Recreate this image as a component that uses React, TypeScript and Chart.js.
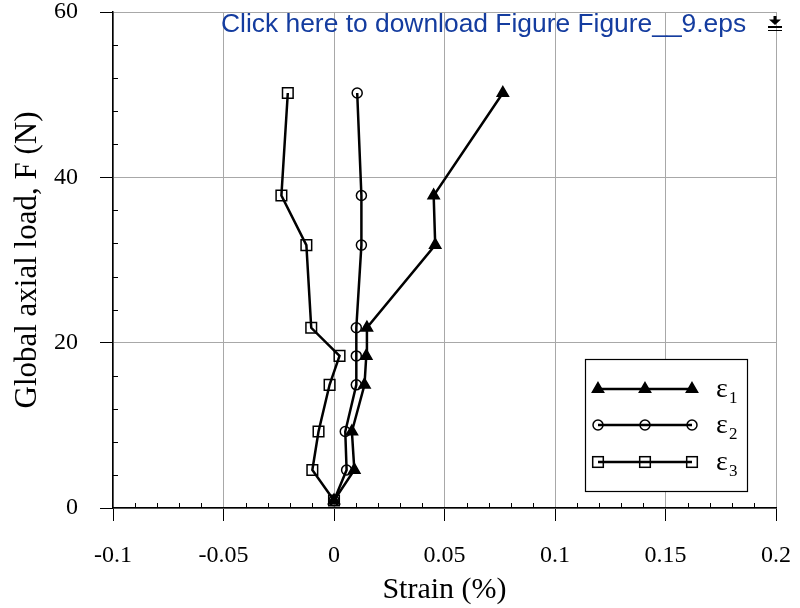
import React, { useEffect, useRef } from 'react';
import { Chart, registerables } from 'chart.js';

Chart.register(...registerables);

// ---- data ----
const load = [0.9, 4.6, 9.25, 14.9, 18.4, 21.8, 31.8, 37.8, 50.2];
const eps1 = [0, 0.0092, 0.0081, 0.0138, 0.0146, 0.0149, 0.0458, 0.0451, 0.0764];
const eps2 = [0, 0.0057, 0.0051, 0.0101, 0.0101, 0.0101, 0.0124, 0.0124, 0.0105];
const eps3 = [0, -0.0098, -0.007, -0.002, 0.0025, -0.0103, -0.0125, -0.0238, -0.0209];
const xTicks = [-0.1, -0.05, 0, 0.05, 0.1, 0.15, 0.2];
const yTicks = [0, 20, 40, 60];
const seriesSubscripts = ['1', '2', '3'];
const xTitle = 'Strain (%)';
const yTitle = 'Global axial load, F (N)';
const linkText = 'Click here to download Figure Figure__9.eps';

const SERIF = '"Liberation Serif", "Times New Roman", serif';
const SANS = '"Liberation Sans", Arial, sans-serif';

type Style = 'triangle' | 'circle' | 'rect';
const markerStyles: Style[] = ['triangle', 'circle', 'rect'];
const markerRadius = [6.5, 5, 7.5];

function drawMarker(ctx: CanvasRenderingContext2D, style: Style, x: number, y: number) {
  ctx.save();
  ctx.strokeStyle = '#000';
  ctx.lineWidth = 1.5;
  if (style === 'triangle') {
    const r = markerRadius[0];
    const s = Math.sin((2 * Math.PI) / 3) * r;
    ctx.beginPath();
    ctx.moveTo(x, y - r);
    ctx.lineTo(x + s, y + r / 2);
    ctx.lineTo(x - s, y + r / 2);
    ctx.closePath();
    ctx.fillStyle = '#000';
    ctx.fill();
    ctx.stroke();
  } else if (style === 'circle') {
    ctx.beginPath();
    ctx.arc(x, y, markerRadius[1], 0, Math.PI * 2);
    ctx.stroke();
  } else {
    const h = markerRadius[2] * Math.SQRT1_2;
    ctx.strokeRect(x - h, y - h, 2 * h, 2 * h);
  }
  ctx.restore();
}

const decorPlugin = {
  id: 'decor',
  afterDraw(chart: any) {
    const ctx: CanvasRenderingContext2D = chart.ctx;
    const xs = chart.scales.x;
    const ys = chart.scales.y;
    const { left, bottom } = chart.chartArea;
    ctx.save();
    // minor ticks
    ctx.strokeStyle = '#000';
    ctx.lineWidth = 1;
    ctx.beginPath();
    for (let k = -10; k <= 20; k++) {
      if (k % 5 === 0) continue;
      const px = Math.round(xs.getPixelForValue(k / 100)) + 0.5;
      ctx.moveTo(px, bottom);
      ctx.lineTo(px, bottom - 5);
    }
    for (let v = 0; v <= 60; v += 4) {
      if (v % 20 === 0) continue;
      const py = Math.round(ys.getPixelForValue(v)) + 0.5;
      ctx.moveTo(left, py);
      ctx.lineTo(left + 5, py);
    }
    ctx.stroke();

    // legend
    const bx = 585, by = 359, bw = 162, bh = 132;
    ctx.fillStyle = '#fff';
    ctx.fillRect(bx, by, bw, bh);
    ctx.strokeStyle = '#000';
    ctx.lineWidth = 1.2;
    ctx.strokeRect(bx + 0.5, by + 0.5, bw, bh);
    const rows = [389, 425, 462];
    rows.forEach((ry, i) => {
      ctx.strokeStyle = '#000';
      ctx.lineWidth = 2.5;
      ctx.beginPath();
      ctx.moveTo(598, ry);
      ctx.lineTo(692, ry);
      ctx.stroke();
      [598, 645, 692].forEach((mx) => drawMarker(ctx, markerStyles[i], mx, ry));
      ctx.fillStyle = '#000';
      ctx.textBaseline = 'alphabetic';
      ctx.textAlign = 'left';
      ctx.font = `28px ${SERIF}`;
      ctx.fillText('ε', 716, ry + 8);
      ctx.font = `17px ${SERIF}`;
      ctx.fillText(seriesSubscripts[i], 729, ry + 14);
    });

    // download link text
    ctx.fillStyle = '#143c9f';
    ctx.font = `26.4px ${SANS}`;
    ctx.textAlign = 'left';
    ctx.textBaseline = 'alphabetic';
    ctx.fillText(linkText, 221, 32);

    // download icon
    ctx.fillStyle = '#000';
    ctx.fillRect(773.5, 16, 3, 4);
    ctx.beginPath();
    ctx.moveTo(769, 19.5);
    ctx.lineTo(781, 19.5);
    ctx.lineTo(775, 25);
    ctx.closePath();
    ctx.fill();
    ctx.fillRect(768, 26, 14, 2);
    ctx.fillRect(768, 30, 14, 1);
    ctx.restore();
  },
};

export default function App() {
  const ref = useRef<HTMLCanvasElement>(null);
  useEffect(() => {
    if (!ref.current) return;
    const mk = (arr: number[]) => load.map((y, i) => ({ x: arr[i], y }));
    const common = {
      showLine: true,
      borderColor: '#000',
      borderWidth: 2.5,
      pointBorderColor: '#000',
      pointBorderWidth: 1.5,
    };
    const chart = new Chart(ref.current, {
      type: 'scatter',
      data: {
        datasets: [
          { ...common, label: 'ε1', data: mk(eps1), pointStyle: 'triangle', pointRadius: markerRadius[0], pointBackgroundColor: '#000' },
          { ...common, label: 'ε2', data: mk(eps2), pointStyle: 'circle', pointRadius: markerRadius[1], pointBackgroundColor: 'rgba(0,0,0,0)' },
          { ...common, label: 'ε3', data: mk(eps3), pointStyle: 'rect', pointRadius: markerRadius[2], pointBackgroundColor: 'rgba(0,0,0,0)' },
        ],
      },
      options: {
        animation: false,
        responsive: false,
        events: [],
        layout: { padding: { top: 12, right: 24, left: 0, bottom: 0 } },
        plugins: { legend: { display: false }, tooltip: { enabled: false } },
        scales: {
          x: {
            type: 'linear',
            min: -0.1,
            max: 0.2,
            afterBuildTicks: (s: any) => { s.ticks = xTicks.map((v) => ({ value: v })); },
            afterFit: (s: any) => { s.height = 100; s.paddingLeft = 0; s.paddingRight = 0; },
            grid: { color: '#a8a8a8', lineWidth: 1, drawTicks: true, tickLength: 13, tickColor: '#000', tickWidth: 1 },
            border: { color: '#000', width: 1.5 },
            ticks: {
              font: { family: SERIF, size: 24 },
              color: '#000',
              padding: 20,
              maxRotation: 0,
              autoSkip: false,
              callback: (v: any) => String(v),
            },
            title: { display: true, text: xTitle, font: { family: SERIF, size: 30 }, color: '#000', padding: { top: 0, bottom: 0 } },
          },
          y: {
            type: 'linear',
            min: 0,
            max: 60,
            afterBuildTicks: (s: any) => { s.ticks = yTicks.map((v) => ({ value: v })); },
            afterFit: (s: any) => { s.width = 113; s.paddingTop = 0; s.paddingBottom = 0; },
            grid: { color: '#a8a8a8', lineWidth: 1, drawTicks: true, tickLength: 13, tickColor: '#000', tickWidth: 1 },
            border: { color: '#000', width: 1.5 },
            ticks: {
              font: { family: SERIF, size: 24 },
              color: '#000',
              padding: 22,
              autoSkip: false,
              callback: (v: any) => String(v),
            },
            title: { display: true, text: yTitle, font: { family: SERIF, size: 31 }, color: '#000', padding: { top: 9, bottom: 0 } },
          },
        },
      },
      plugins: [decorPlugin],
    } as any);
    return () => chart.destroy();
  }, []);
  return (
    <div style={{ position: 'fixed', left: 0, top: 0, width: 800, height: 608, background: '#fff' }}>
      <canvas ref={ref} width={800} height={608} style={{ display: 'block' }} />
    </div>
  );
}
